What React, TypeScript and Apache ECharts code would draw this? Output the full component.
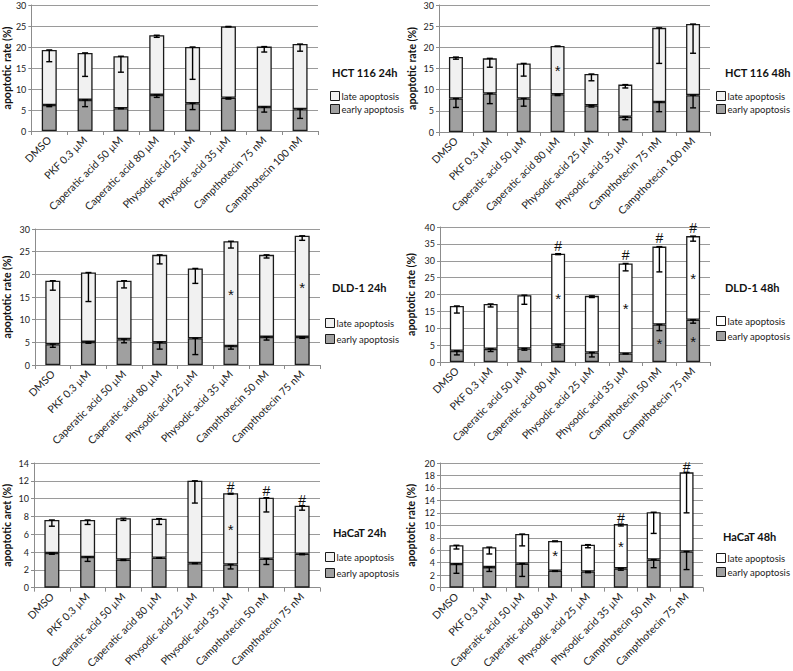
import React, { useEffect, useRef } from "react";
import * as echarts from "echarts";

const cats75_100 = ["DMSO", "PKF 0.3 µM", "Caperatic acid 50 µM", "Caperatic acid 80 µM", "Physodic acid 25 µM", "Physodic acid 35 µM", "Campthotecin 75 nM", "Campthotecin 100 nM"];
const cats50_75 = ["DMSO", "PKF 0.3 µM", "Caperatic acid 50 µM", "Caperatic acid 80 µM", "Physodic acid 25 µM", "Physodic acid 35 µM", "Campthotecin 50 nM", "Campthotecin 75 nM"];

// HCT 116 24h
const hct24Early = [6.2, 7.4, 5.4, 8.6, 6.6, 7.9, 5.7, 5.2];
const hct24Late = [13.1, 11.2, 12.4, 14.2, 13.4, 17.0, 14.4, 15.5];
const hct24EarlyErr = [0.4, 1.6, 0.1, 0.6, 1.5, 0.3, 1.2, 2.2];
const hct24LateErr = [2.8, 5.6, 3.8, 0.5, 7.7, 0.1, 1.3, 1.7];
const hct24Marks: [number, number, string][] = [];

// HCT 116 48h
const hct48Early = [7.9, 9.1, 7.9, 8.9, 6.3, 3.6, 7.1, 8.7];
const hct48Late = [9.8, 8.3, 8.3, 11.4, 7.4, 7.6, 17.5, 16.8];
const hct48EarlyErr = [2.1, 2.4, 1.8, 0.3, 0.4, 0.7, 2.3, 3.0];
const hct48LateErr = [0.5, 2.1, 3.0, 0.1, 1.6, 0.8, 8.4, 6.9];
const hct48Marks: [number, number, string][] = [[3, 14.6, "*"]];

// DLD-1 24h
const dld24Early = [4.6, 5.1, 5.7, 5.0, 5.9, 4.2, 6.2, 6.2];
const dld24Late = [14.0, 15.3, 12.9, 19.3, 15.4, 23.1, 18.1, 22.3];
const dld24EarlyErr = [0.7, 0.3, 0.8, 1.5, 3.6, 0.7, 0.7, 0.3];
const dld24LateErr = [2.1, 6.4, 1.6, 2.0, 3.3, 1.5, 0.7, 1.0];
const dld24Marks: [number, number, string][] = [[5, 15.6, "*"], [7, 17.2, "*"]];

// DLD-1 48h
const dld48Early = [3.3, 3.9, 4.0, 5.2, 2.8, 2.5, 11.1, 12.5];
const dld48Late = [13.3, 13.3, 15.8, 26.9, 16.8, 26.7, 23.1, 24.8];
const dld48EarlyErr = [1.2, 0.8, 0.5, 0.8, 1.3, 0.1, 1.8, 1.0];
const dld48LateErr = [2.1, 0.9, 2.7, 0.3, 0.5, 2.2, 7.5, 1.5];
const dld48Marks: [number, number, string][] = [
  [3, 18.8, "*"], [5, 15.8, "*"], [6, 5.5, "*"], [7, 24.8, "*"], [7, 6.1, "*"],
  [3, 34.5, "#"], [5, 31.6, "#"], [6, 36.6, "#"], [7, 39.7, "#"],
];

// HaCaT 24h
const hac24Early = [3.9, 3.45, 3.15, 3.35, 2.75, 2.6, 3.25, 3.8];
const hac24Late = [3.7, 4.15, 4.65, 4.4, 9.25, 8.0, 6.85, 5.4];
const hac24EarlyErr = [0.15, 0.5, 0.1, 0.05, 0.05, 0.5, 0.65, 0.1];
const hac24LateErr = [0.7, 0.5, 0.25, 0.65, 2.5, 0.1, 1.6, 0.5];
const hac24Marks: [number, number, string][] = [[5, 6.5, "*"], [5, 11.3, "#"], [6, 10.8, "#"], [7, 9.9, "#"]];

// HaCaT 48h
const hac48Early = [3.8, 3.3, 3.85, 2.7, 2.6, 3.1, 4.5, 5.8];
const hac48Late = [3.0, 3.2, 4.75, 4.8, 4.3, 7.1, 7.6, 12.7];
const hac48EarlyErr = [1.5, 0.7, 2.05, 0.1, 0.2, 0.3, 1.3, 2.9];
const hac48LateErr = [0.6, 1.1, 1.9, 0.1, 0.5, 0.3, 3.4, 6.5];
const hac48Marks: [number, number, string][] = [[3, 5.1, "*"], [5, 6.6, "*"], [5, 11.2, "#"], [7, 19.3, "#"]];

const FONT = "Lato, 'Open Sans', sans-serif";
const EARLY_COLOR = "#a0a0a0";
const LATE_GRAY = "#f1f1f1";
const LATE_WHITE = "#ffffff";

type Panel = {
  title: string; yName: string; cats: string[];
  early: number[]; late: number[]; earlyErr: number[]; lateErr: number[];
  marks: [number, number, string][];
  max: number; interval: number; lateColor: string;
  grid: { left: number; top: number; width: number; height: number };
  barWidth: number; nameGap: number; legendGap: number;
  titlePos: [number, number]; legendPos: [number, number];
};

const panels: Panel[] = [
  { title: "HCT 116 24h", yName: "apoptotic rate (%)", cats: cats75_100, early: hct24Early, late: hct24Late, earlyErr: hct24EarlyErr, lateErr: hct24LateErr, marks: hct24Marks, max: 30, interval: 5, lateColor: LATE_GRAY, grid: { left: 28, top: 5, width: 290, height: 126 }, barWidth: 15, nameGap: 19, legendGap: 3, titlePos: [332, 67], legendPos: [330, 91] },
  { title: "HCT 116 48h", yName: "apoptotic rate (%)", cats: cats75_100, early: hct48Early, late: hct48Late, earlyErr: hct48EarlyErr, lateErr: hct48LateErr, marks: hct48Marks, max: 30, interval: 5, lateColor: LATE_GRAY, grid: { left: 439, top: 5, width: 271, height: 127 }, barWidth: 14, nameGap: 22, legendGap: 3, titlePos: [725, 67], legendPos: [716, 91] },
  { title: "DLD-1 24h", yName: "apoptotic rate (%)", cats: cats50_75, early: dld24Early, late: dld24Late, earlyErr: dld24EarlyErr, lateErr: dld24LateErr, marks: dld24Marks, max: 30, interval: 5, lateColor: LATE_GRAY, grid: { left: 29, top: 229, width: 291, height: 136 }, barWidth: 15, nameGap: 23, legendGap: 6, titlePos: [332, 282], legendPos: [325, 318] },
  { title: "DLD-1 48h", yName: "apoptotic rate (%)", cats: cats50_75, early: dld48Early, late: dld48Late, earlyErr: dld48EarlyErr, lateErr: dld48LateErr, marks: dld48Marks, max: 40, interval: 5, lateColor: LATE_WHITE, grid: { left: 440, top: 227, width: 270, height: 135 }, barWidth: 14, nameGap: 24, legendGap: 5, titlePos: [725, 282], legendPos: [716, 316] },
  { title: "HaCaT 24h", yName: "apoptotic aret (%)", cats: cats50_75, early: hac24Early, late: hac24Late, earlyErr: hac24EarlyErr, lateErr: hac24LateErr, marks: hac24Marks, max: 14, interval: 2, lateColor: LATE_GRAY, grid: { left: 29, top: 463, width: 291, height: 136 }, barWidth: 15, nameGap: 22, legendGap: 6, titlePos: [333, 527], legendPos: [325, 552] },
  { title: "HaCaT 48h", yName: "apoptotic rate (%)", cats: cats50_75, early: hac48Early, late: hac48Late, earlyErr: hac48EarlyErr, lateErr: hac48LateErr, marks: hac48Marks, max: 20, interval: 2, lateColor: LATE_WHITE, grid: { left: 440, top: 463, width: 263, height: 137 }, barWidth: 14, nameGap: 24, legendGap: 4, titlePos: [723, 531], legendPos: [716, 553] },
];

function buildOption() {
  const grid: any[] = [];
  const xAxis: any[] = [];
  const yAxis: any[] = [];
  const series: any[] = [];
  const title: any[] = [];
  const legend: any[] = [];

  panels.forEach((p, k) => {
    grid.push({ ...p.grid, containLabel: false });
    xAxis.push({
      type: "category", gridIndex: k, data: p.cats,
      axisLine: { lineStyle: { color: "#8c8c8c", width: 1 } },
      axisTick: { show: true, length: 4, lineStyle: { color: "#8c8c8c" } },
      axisLabel: { rotate: 45, interval: 0, fontSize: 10.5, color: "#222", fontFamily: FONT, margin: 7 },
    });
    yAxis.push({
      type: "value", gridIndex: k, min: 0, max: p.max, interval: p.interval,
      name: p.yName, nameLocation: "middle", nameGap: p.nameGap,
      nameTextStyle: { fontSize: 10.5, fontWeight: "bold", color: "#111", fontFamily: FONT },
      axisLine: { show: true, lineStyle: { color: "#8c8c8c", width: 1 } },
      axisTick: { show: true, length: 3, lineStyle: { color: "#8c8c8c" } },
      axisLabel: { fontSize: 9, color: "#222", fontFamily: FONT, margin: 5 },
      splitLine: { show: true, lineStyle: { color: "#9a9a9a", width: 1 } },
    });
    series.push({
      type: "bar", name: "early apoptosis", stack: "s" + k, xAxisIndex: k, yAxisIndex: k,
      barWidth: p.barWidth, data: p.early,
      itemStyle: { color: EARLY_COLOR, borderColor: "#1a1a1a", borderWidth: 1.3 },
    });
    series.push({
      type: "bar", name: "late apoptosis", stack: "s" + k, xAxisIndex: k, yAxisIndex: k,
      barWidth: p.barWidth, data: p.late,
      itemStyle: { color: p.lateColor, borderColor: "#1a1a1a", borderWidth: 1.3 },
    });
    const errData: number[][] = [];
    p.early.forEach((e, i) => {
      errData.push([i, e, e - p.earlyErr[i]]);
      const tot = e + p.late[i];
      errData.push([i, tot, tot - p.lateErr[i]]);
    });
    series.push({
      type: "custom", xAxisIndex: k, yAxisIndex: k, z: 5,
      itemStyle: { color: "#000" },
      encode: { x: 0, y: [1, 2] },
      data: errData,
      renderItem: (params: any, api: any) => {
        const x = api.value(0);
        const a = api.coord([x, api.value(1)]);
        const b = api.coord([x, api.value(2)]);
        const w = 3;
        const st = { stroke: "#000", lineWidth: 1.4 };
        return {
          type: "group",
          children: [
            { type: "line", shape: { x1: a[0], y1: a[1], x2: b[0], y2: b[1] }, style: st },
            { type: "line", shape: { x1: b[0] - w, y1: b[1], x2: b[0] + w, y2: b[1] }, style: st },
            { type: "line", shape: { x1: a[0] - w, y1: a[1], x2: a[0] + w, y2: a[1] }, style: st },
          ],
        };
      },
    });
    if (p.marks.length) {
      const marks = p.marks;
      series.push({
        type: "custom", xAxisIndex: k, yAxisIndex: k, z: 6,
        itemStyle: { color: "#111" },
        encode: { x: 0, y: 1 },
        data: marks.map((m) => [m[0], m[1]]),
        renderItem: (params: any, api: any) => {
          const c = api.coord([api.value(0), api.value(1)]);
          const ch = marks[params.dataIndex][2];
          return {
            type: "text", x: c[0], y: c[1],
            style: {
              text: ch, fontSize: ch === "#" ? 14 : 15,
              fontFamily: "'Liberation Sans', Arial, sans-serif",
              fill: "#111", align: "center", verticalAlign: "middle",
            },
          };
        },
      });
    }
    title.push({
      text: p.title, left: p.titlePos[0], top: p.titlePos[1], padding: 0,
      textStyle: { fontSize: 11, fontWeight: "bold", color: "#111", fontFamily: FONT },
    });
    legend.push({
      left: p.legendPos[0], top: p.legendPos[1], orient: "vertical", padding: 0,
      itemWidth: 9, itemHeight: 9, itemGap: p.legendGap, icon: "rect", selectedMode: false,
      textStyle: { fontSize: 9.5, color: "#222", fontFamily: FONT, padding: [0, 0, 0, -3] },
      data: [
        { name: "late apoptosis", itemStyle: { color: p.lateColor, borderColor: "#1a1a1a", borderWidth: 1 } },
        { name: "early apoptosis", itemStyle: { color: EARLY_COLOR, borderColor: "#1a1a1a", borderWidth: 1 } },
      ],
    });
  });

  return { animation: false, backgroundColor: "#ffffff", grid, xAxis, yAxis, series, title, legend };
}

export default function App() {
  const ref = useRef<HTMLDivElement>(null);
  useEffect(() => {
    document.body.style.margin = "0";
    if (!ref.current) return;
    const chart = echarts.init(ref.current, undefined, { renderer: "svg" });
    chart.setOption(buildOption() as any);
    return () => chart.dispose();
  }, []);
  return <div ref={ref} style={{ position: "absolute", left: 0, top: 0, width: 793, height: 671, background: "#fff" }} />;
}
